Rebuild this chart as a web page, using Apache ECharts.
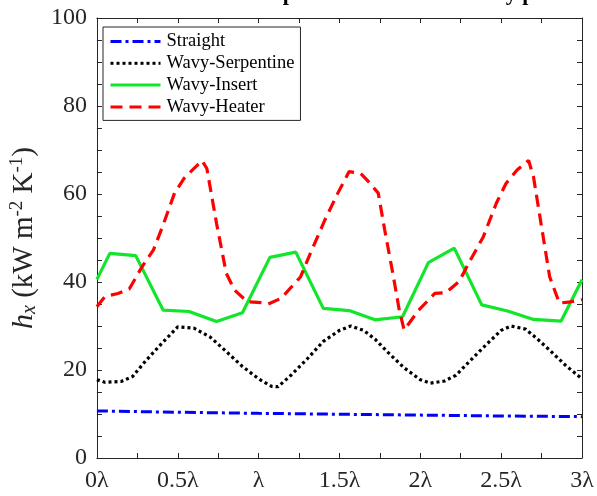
<!DOCTYPE html>
<html><head><meta charset="utf-8">
<script src="https://cdn.jsdelivr.net/npm/echarts@6/dist/echarts.min.js"></script>
<style>html,body{margin:0;padding:0;background:#fff}#c{width:597px;height:496px}</style>
</head><body><div id="c"></div>
<script>
// x positions in wavelengths (λ), y values in kW m^-2 K^-1
const straight = [[0,10.7],[0.5,10.4],[1,10.15],[1.5,9.95],[2,9.75],[2.5,9.55],[3,9.4]];
const serpentine = [[0,17.8],[0.05,17.2],[0.15,17.4],[0.22,18.5],[0.3,22],[0.4,26],[0.5,29.8],[0.6,29.5],[0.7,27.5],[0.8,24.2],[0.9,20.8],[1.0,18.0],[1.08,16.3],[1.12,16.2],[1.2,18.8],[1.3,22.5],[1.4,26.5],[1.5,29.0],[1.57,30.0],[1.65,29.0],[1.72,27.0],[1.8,24.0],[1.9,20.5],[2.0,17.8],[2.06,17.0],[2.15,17.5],[2.22,18.8],[2.3,21.8],[2.4,25.5],[2.5,29.0],[2.56,30.0],[2.65,29.3],[2.72,27.2],[2.8,24.5],[2.9,21.0],[3.0,18.0]];
const insert = [[0,40.6],[0.08,46.5],[0.24,46.0],[0.41,33.6],[0.57,33.3],[0.74,31.0],[0.90,33.0],[1.07,45.6],[1.23,46.8],[1.40,34.0],[1.56,33.5],[1.72,31.4],[1.89,32.1],[2.05,44.4],[2.21,47.7],[2.38,34.8],[2.54,33.4],[2.70,31.5],[2.87,31.1],[3.0,40.5]];
const heater = [[0,34.4],[0.05,36.7],[0.13,37.4],[0.2,38.4],[0.28,43.5],[0.35,47.3],[0.41,53.0],[0.48,60.2],[0.54,63.6],[0.62,66.5],[0.65,67.6],[0.68,65.8],[0.74,53.3],[0.80,42.0],[0.85,38.2],[0.93,35.5],[1.02,35.3],[1.06,35.0],[1.14,36.3],[1.26,41.2],[1.32,46.5],[1.41,54.1],[1.49,60.2],[1.56,65.1],[1.63,64.7],[1.68,62.8],[1.74,60.2],[1.78,51.8],[1.83,42.0],[1.87,33.6],[1.90,29.1],[1.99,33.6],[2.09,37.4],[2.16,37.6],[2.24,40.1],[2.31,45.0],[2.39,50.3],[2.47,57.9],[2.53,62.4],[2.60,65.5],[2.67,67.6],[2.70,63.9],[2.74,54.8],[2.80,41.2],[2.86,35.2],[2.93,35.5],[3.0,36.0]];
const seriesNames = ['Straight','Wavy-Serpentine','Wavy-Insert','Wavy-Heater'];
const xTickLabels = {0:'0λ',0.5:'0.5λ',1:'λ',1.5:'1.5λ',2:'2λ',2.5:'2.5λ',3:'3λ'};
const yLabelStep = 20;
const titleText = 'Pressure and heat transfer performance of the wavy plate';

const font = '"Liberation Serif", "Times New Roman", serif';
const axisColor = '#262626';
const chart = echarts.init(document.getElementById('c'), null, {renderer:'canvas'});
const baseX = {type:'value',min:0,max:3,interval:0.25,
  axisLine:{show:true,onZero:false,lineStyle:{color:axisColor,width:1}},
  axisTick:{show:true,inside:true,length:5,lineStyle:{color:axisColor}},
  splitLine:{show:false}};
const baseY = {type:'value',min:0,max:100,interval:5,
  axisLine:{show:true,onZero:false,lineStyle:{color:axisColor,width:1}},
  axisTick:{show:true,inside:true,length:5,lineStyle:{color:axisColor}},
  splitLine:{show:false}};
chart.setOption({
  animation:false,
  title:{text:titleText,left:'center',top:-22,textStyle:{fontFamily:font,fontSize:22,fontWeight:'bold',color:'#000'}},
  grid:{left:95,right:15,top:18,bottom:38,containLabel:false},
  legend:{orient:'vertical',left:103,top:27,itemWidth:50,itemHeight:14,itemGap:2.8,
    padding:[5,6,4,6],borderColor:axisColor,borderWidth:1,backgroundColor:'#fff',
    itemStyle:{opacity:0},lineStyle:{width:3},
    textStyle:{fontFamily:font,fontSize:18.5,color:'#000',padding:[0,0,0,1]},
    data:seriesNames},
  xAxis:[
    Object.assign({},baseX,{position:'bottom',axisLabel:{show:true,margin:11,fontFamily:font,fontSize:24,color:axisColor,
      formatter:v=>{const k=Math.round(v*100)/100; return xTickLabels[k]!==undefined?xTickLabels[k]:'';}}}),
    Object.assign({},baseX,{position:'top',axisLabel:{show:false}})
  ],
  yAxis:[
    Object.assign({},baseY,{position:'left',axisLabel:{show:true,margin:10,fontFamily:font,fontSize:24,color:axisColor,
      formatter:v=>(v%yLabelStep===0?String(v):'')},
      name:'{i|h}{sub|x}{n| (kW m}{sup|-2}{n| K}{sup|-1}{n|)}',nameLocation:'middle',nameGap:46,nameRotate:90,
      nameTextStyle:{fontFamily:font,fontSize:29,color:axisColor,
        rich:{i:{fontFamily:font,fontSize:30,fontStyle:'italic',color:axisColor},
              sub:{fontFamily:font,fontSize:20,fontStyle:'italic',color:axisColor,verticalAlign:'bottom',padding:[12,0,0,0]},
              sup:{fontFamily:font,fontSize:19,color:axisColor,verticalAlign:'top',padding:[0,0,12,0]},
              n:{fontFamily:font,fontSize:29,color:axisColor}}}}),
    Object.assign({},baseY,{position:'right',axisLabel:{show:false}})
  ],
  series:[
    {name:seriesNames[0],type:'line',data:straight,showSymbol:false,symbol:'none',z:5,
      lineStyle:{color:'#0000ff',width:3,type:[11,4,3,4]},itemStyle:{color:'#0000ff'}},
    {name:seriesNames[1],type:'line',data:serpentine,showSymbol:false,symbol:'none',z:5,
      lineStyle:{color:'#000000',width:3.2,type:[3,3]},itemStyle:{color:'#000'}},
    {name:seriesNames[2],type:'line',data:insert,showSymbol:false,symbol:'none',z:4,
      lineStyle:{color:'#12e62a',width:3.2,type:'solid'},itemStyle:{color:'#12e62a'}},
    {name:seriesNames[3],type:'line',data:heater,showSymbol:false,symbol:'none',z:6,
      lineStyle:{color:'#ff0000',width:3.2,type:[12,7]},itemStyle:{color:'#ff0000'}}
  ]
});
</script></body></html>
